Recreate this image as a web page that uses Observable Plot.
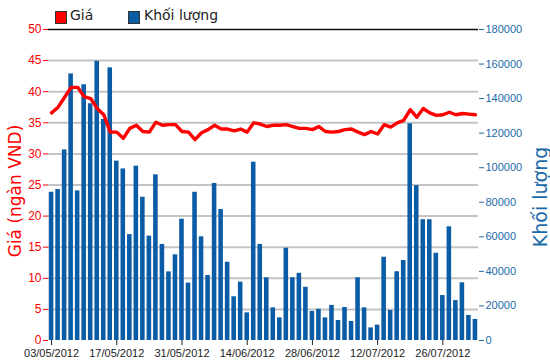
<!DOCTYPE html>
<html><head><meta charset="utf-8">
<script src="https://cdn.jsdelivr.net/npm/d3@7"></script>
<script src="https://cdn.jsdelivr.net/npm/@observablehq/plot@0.6"></script>
<style>
body{margin:0;background:#fff;width:550px;height:364px;overflow:hidden;}
#legend{position:relative;height:22px;font-family:"DejaVu Sans",sans-serif;font-size:14px;color:#222;}
.sw{position:absolute;top:11px;width:10px;height:11px;border:1px solid #333;}
.lt{position:absolute;top:6px;line-height:18px;}
#chart svg{display:block;}
</style></head>
<body>
<div id="legend">
  <div class="sw" style="left:55px;background:#ff0000"></div><div class="lt" style="left:70px">Giá</div>
  <div class="sw" style="left:128px;background:#0a5ca6"></div><div class="lt" style="left:144px">Khối lượng</div>
</div>
<div id="chart"></div>
<script>
const dates = [
"03/05/2012","04/05/2012","07/05/2012","08/05/2012","09/05/2012","10/05/2012","11/05/2012","14/05/2012","15/05/2012","16/05/2012",
"17/05/2012","18/05/2012","21/05/2012","22/05/2012","23/05/2012","24/05/2012","25/05/2012","28/05/2012","29/05/2012","30/05/2012",
"31/05/2012","01/06/2012","04/06/2012","05/06/2012","06/06/2012","07/06/2012","08/06/2012","11/06/2012","12/06/2012","13/06/2012",
"14/06/2012","15/06/2012","18/06/2012","19/06/2012","20/06/2012","21/06/2012","22/06/2012","25/06/2012","26/06/2012","27/06/2012",
"28/06/2012","29/06/2012","02/07/2012","03/07/2012","04/07/2012","05/07/2012","06/07/2012","09/07/2012","10/07/2012","11/07/2012",
"12/07/2012","13/07/2012","16/07/2012","17/07/2012","18/07/2012","19/07/2012","20/07/2012","23/07/2012","24/07/2012","25/07/2012",
"26/07/2012","27/07/2012","30/07/2012","31/07/2012","01/08/2012","02/08/2012"];

const volume = [
85800,87400,110300,154300,86600,148000,137000,161600,127900,157800,
103800,99300,61300,100900,82900,60400,95900,55600,39700,49600,
70200,33200,85800,60000,37600,90900,75800,45300,25300,33800,
16000,103200,55600,36300,18900,13100,53400,36300,38900,30800,
16800,18100,13100,20300,11600,19100,11000,36300,18900,7300,
8900,48200,17400,39800,46300,125400,89600,69900,69900,50500,
26000,65800,23100,33400,14500,12200];

const price = [
36.6,37.5,39.1,40.7,40.7,39.2,38.9,37.3,36.3,33.5,
33.5,32.5,34.1,34.6,33.6,33.5,35.1,34.6,34.7,34.7,
33.6,33.5,32.3,33.4,33.9,34.6,34.0,34.0,33.7,34.0,
33.5,35.0,34.8,34.4,34.6,34.6,34.7,34.4,34.1,34.1,
33.9,34.4,33.6,33.5,33.6,33.9,34.0,33.5,33.1,33.6,
33.2,34.7,34.3,35.0,35.4,37.1,35.9,37.3,36.6,36.2,
36.3,36.7,36.3,36.5,36.4,36.3];

const priceTicks = [0,5,10,15,20,25,30,35,40,45,50];
const volumeTicks = [0,20000,40000,60000,80000,100000,120000,140000,160000,180000];
const xTicks = ["03/05/2012","17/05/2012","31/05/2012","14/06/2012","28/06/2012","12/07/2012","26/07/2012"];

const priceMax = priceTicks[priceTicks.length-1];
const volMax = volumeTicks[volumeTicks.length-1];
const ratio = volMax / priceMax;

const data = dates.map((d,i) => ({date:d, volume:volume[i], price:price[i]}));

const RED = "#ff0000", BLUE = "#0a5ca6", AXB = "#1a6aa8";

const chart = Plot.plot({
  width: 550, height: 342,
  marginTop: 7, marginBottom: 24, marginLeft: 48, marginRight: 72,
  style: {fontFamily: "Liberation Sans, Arial, sans-serif", background: "#fff"},
  x: {type: "band", domain: dates, paddingInner: 0.3, paddingOuter: 0.12, axis: null},
  y: {domain: [0, priceMax], axis: null},
  marks: [
    Plot.gridY(priceTicks.filter(t => t > 0 && t < priceMax), {stroke: "#c4c4c4", strokeOpacity: 1, strokeWidth: 2}),
    Plot.barY(data, {x: "date", y: d => d.volume / ratio, fill: BLUE}),
    Plot.lineY(data, {x: "date", y: "price", stroke: RED, strokeWidth: 3.4, strokeLinejoin: "round"}),
    Plot.ruleY([priceMax], {stroke: "#111", strokeWidth: 1.5}),
    Plot.axisY(priceTicks, {anchor: "left", color: RED, tickSize: 5, tickPadding: 2, fontSize: 12, line: true, label: null}),
    Plot.axisY(volumeTicks.map(v => v / ratio), {anchor: "right", color: AXB, tickSize: 5, tickPadding: 2, fontSize: 11, line: true, label: null, tickFormat: d => String(Math.round(d * ratio))}),
    Plot.axisX(xTicks, {anchor: "bottom", color: "#222", tickSize: 5, tickPadding: 4, fontSize: 11, line: true, label: null}),
    Plot.text(["Giá (ngàn VND)"], {frameAnchor: "left", textAnchor: "middle", rotate: -90, dx: -33, dy: 6, fill: RED, fontSize: 17, fontFamily: "DejaVu Sans"}),
    Plot.text(["Khối lượng"], {frameAnchor: "right", textAnchor: "middle", rotate: -90, dx: 62, dy: 12, fill: AXB, fontSize: 19, fontFamily: "DejaVu Sans"})
  ]
});
document.getElementById("chart").appendChild(chart);
</script>
</body></html>
